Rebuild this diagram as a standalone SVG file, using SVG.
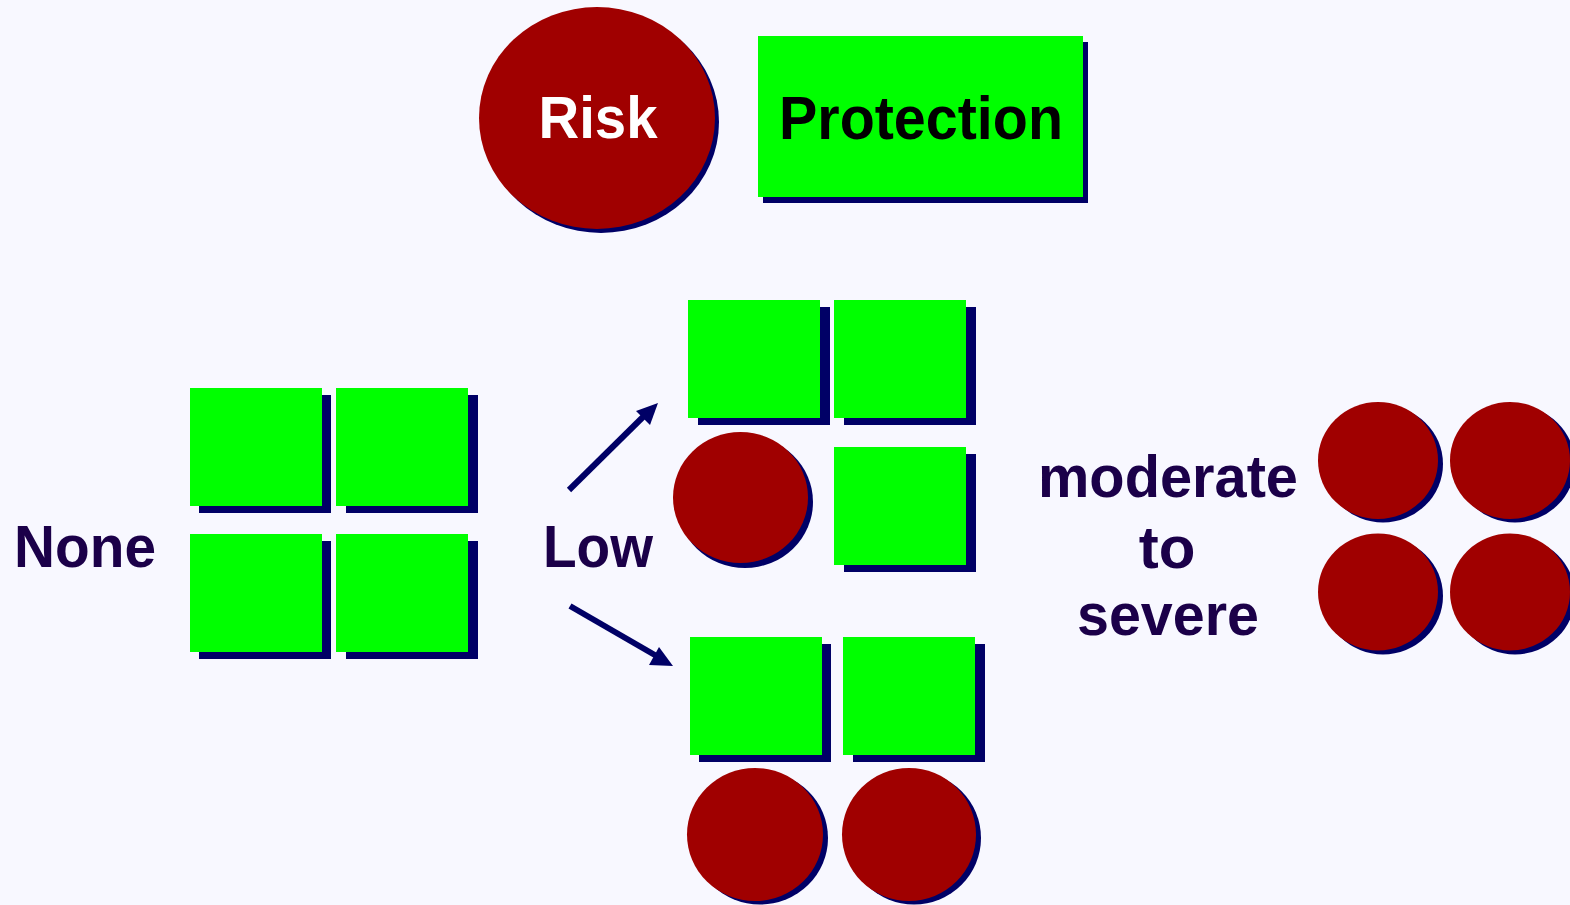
<svg xmlns="http://www.w3.org/2000/svg" width="1570" height="905" viewBox="0 0 1570 905">
<defs>
<style>
.bg{fill:#f8f8ff}
.g{fill:#00ff00}
.r{fill:#a00000}
.sh{fill:#000066}
.lbl{font-family:"Liberation Sans",Arial,sans-serif;font-weight:bold;font-size:60px;fill:#1b0049}
.conn{stroke:#000066;stroke-width:6;fill:none}
.head{fill:#000066}
</style>
</defs>
<rect class="bg" x="0" y="0" width="1570" height="905"/>

<g id="risk">
<ellipse class="sh" cx="601" cy="122" rx="118" ry="111"/>
<ellipse class="r" cx="597" cy="118" rx="118" ry="111"/>
<text x="598" y="138" text-anchor="middle" style="font-family:'Liberation Sans',Arial,sans-serif;font-weight:bold;font-size:59px;fill:#ffffff" textLength="119" lengthAdjust="spacingAndGlyphs">Risk</text>
</g>

<g id="protection">
<rect class="sh" x="763" y="42" width="325" height="161"/>
<rect class="g" x="758" y="36" width="325" height="161"/>
<text x="779" y="139" style="font-family:'Liberation Sans',Arial,sans-serif;font-weight:bold;font-size:61px;fill:#000000" textLength="284" lengthAdjust="spacingAndGlyphs">Protection</text>
</g>

<g id="none-label"><text class="lbl" x="14" y="567" textLength="142" lengthAdjust="spacingAndGlyphs">None</text></g>

<g id="none-group">
<rect class="sh" x="199" y="395" width="132" height="118"/>
<rect class="g" x="190" y="388" width="132" height="118"/>
<rect class="sh" x="346" y="395" width="132" height="118"/>
<rect class="g" x="336" y="388" width="132" height="118"/>
<rect class="sh" x="199" y="541" width="132" height="118"/>
<rect class="g" x="190" y="534" width="132" height="118"/>
<rect class="sh" x="346" y="541" width="132" height="118"/>
<rect class="g" x="336" y="534" width="132" height="118"/>
</g>

<g id="low-label"><text class="lbl" x="543" y="567" textLength="110" lengthAdjust="spacingAndGlyphs">Low</text></g>

<g id="low-upper">
<rect class="sh" x="698" y="307" width="132" height="118"/>
<rect class="g" x="688" y="300" width="132" height="118"/>
<rect class="sh" x="844" y="307" width="132" height="118"/>
<rect class="g" x="834" y="300" width="132" height="118"/>
<ellipse class="sh" cx="745" cy="502" rx="68" ry="66"/>
<ellipse class="r" cx="740.5" cy="497.5" rx="67.5" ry="65.5"/>
<rect class="sh" x="844" y="454" width="132" height="118"/>
<rect class="g" x="834" y="447" width="132" height="118"/>
</g>

<g id="low-lower">
<rect class="sh" x="699" y="644" width="132" height="118"/>
<rect class="g" x="690" y="637" width="132" height="118"/>
<rect class="sh" x="853" y="644" width="132" height="118"/>
<rect class="g" x="843" y="637" width="132" height="118"/>
<ellipse class="sh" cx="760" cy="838" rx="68" ry="66.5"/>
<ellipse class="r" cx="755" cy="834.5" rx="68" ry="66.5"/>
<ellipse class="sh" cx="914" cy="838" rx="67" ry="66.5"/>
<ellipse class="r" cx="909" cy="834.5" rx="67" ry="66.5"/>
</g>

<g id="severe-label">
<text class="lbl" x="1168" y="497" text-anchor="middle" textLength="260" lengthAdjust="spacingAndGlyphs">moderate</text>
<text class="lbl" x="1167" y="568" text-anchor="middle">to</text>
<text class="lbl" x="1168" y="635" text-anchor="middle" textLength="182" lengthAdjust="spacingAndGlyphs">severe</text>
</g>

<g id="severe-group">
<ellipse class="sh" cx="1383" cy="464" rx="60" ry="58.5"/>
<ellipse class="r" cx="1378" cy="460.5" rx="60" ry="58.5"/>
<ellipse class="sh" cx="1515" cy="464" rx="60" ry="58.5"/>
<ellipse class="r" cx="1510" cy="460.5" rx="60" ry="58.5"/>
<ellipse class="sh" cx="1383" cy="596" rx="60" ry="58.5"/>
<ellipse class="r" cx="1378" cy="592" rx="60" ry="58.5"/>
<ellipse class="sh" cx="1515" cy="596" rx="60" ry="58.5"/>
<ellipse class="r" cx="1510" cy="592" rx="60" ry="58.5"/>
</g>

<g id="connectors">
<line class="conn" x1="569" y1="490" x2="645" y2="415"/>
<polygon class="head" points="658,403 636,411 650,425"/>
<line class="conn" x1="570" y1="606" x2="660" y2="658"/>
<polygon class="head" points="673,666 649,665 659,647"/>
</g>
</svg>
